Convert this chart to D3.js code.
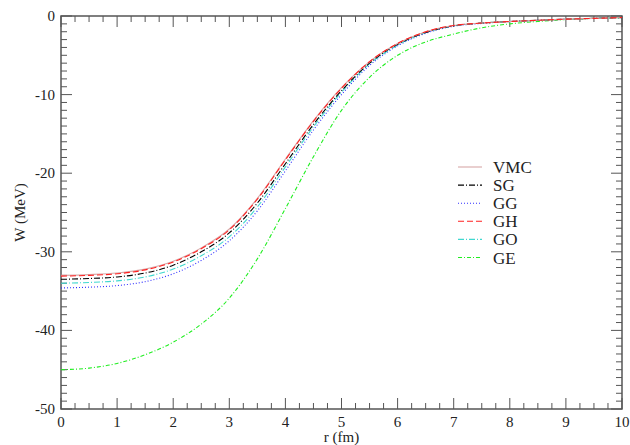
<!DOCTYPE html>
<html>
<head>
<meta charset="utf-8">
<script src="https://cdn.jsdelivr.net/npm/d3@7"></script>
<style>
  body { margin: 0; background: #fff; }
  svg text { font-family: "Liberation Serif", "Times New Roman", Times, serif; fill: #222; }
</style>
</head>
<body>
<svg class="figure" width="630" height="445"></svg>
<script>
// radius grid (fm)
var r = [0, 0.5, 1, 1.5, 2, 2.5, 3, 3.5, 4, 4.5, 5, 5.5, 6, 6.5, 7, 7.5, 8, 8.5, 9, 9.5, 10];

// imaginary potentials W (MeV)
var vmc = [-33.0, -32.9, -32.7, -32.2, -31.2, -29.5, -27.1, -23.2, -18.2, -13.3, -9.1, -5.8, -3.5, -2.0, -1.2, -0.9, -0.7, -0.55, -0.4, -0.3, -0.2];
var sg  = [-33.5, -33.4, -33.2, -32.7, -31.7, -30.0, -27.6, -23.8, -18.8, -13.8, -9.5, -6.0, -3.6, -2.1, -1.25, -0.9, -0.7, -0.55, -0.4, -0.3, -0.2];
var gg  = [-34.6, -34.5, -34.3, -33.8, -32.8, -31.1, -28.6, -24.8, -19.7, -14.5, -10.0, -6.3, -3.8, -2.2, -1.3, -0.95, -0.7, -0.55, -0.4, -0.3, -0.2];
var gh  = [-33.1, -33.0, -32.8, -32.3, -31.3, -29.6, -27.2, -23.3, -18.3, -13.4, -9.2, -5.8, -3.5, -2.0, -1.2, -0.9, -0.7, -0.55, -0.4, -0.3, -0.2];
var go  = [-34.0, -33.9, -33.7, -33.2, -32.2, -30.5, -28.1, -24.3, -19.2, -14.1, -9.7, -6.1, -3.7, -2.1, -1.25, -0.9, -0.7, -0.55, -0.4, -0.3, -0.2];
var ge  = [-45.0, -44.8, -44.2, -43.1, -41.5, -39.2, -35.9, -30.9, -24.5, -17.9, -12.0, -7.8, -5.0, -3.3, -2.3, -1.5, -1.0, -0.7, -0.45, -0.3, -0.2];

var seriesNames = ["VMC", "SG", "GG", "GH", "GO", "GE"];
var seriesValues = [vmc, sg, gg, gh, go, ge];
var seriesColors = ["#d8a8a8", "#000000", "#3030ff", "#ff2020", "#40d8d0", "#20ee20"];
var seriesDash = ["none", "6,2,1,2", "1,2", "6,3", "6,2,1,2", "4,2,1,2"];
var drawOrder = [5, 2, 4, 1, 0, 3];

var xTicks = [0, 1, 2, 3, 4, 5, 6, 7, 8, 9, 10];
var yTicks = [0, -10, -20, -30, -40, -50];

var svg = d3.select("svg.figure");
var plotLeft = 61, plotRight = 622, plotTop = 16, plotBottom = 409;

var x = d3.scaleLinear().domain([0, 10]).range([plotLeft, plotRight]);
var y = d3.scaleLinear().domain([-50, 0]).range([plotBottom, plotTop]);

var axisColor = "#555";

// frame
svg.append("rect")
.attr("x", plotLeft)
.attr("y", plotTop)
.attr("width", plotRight - plotLeft)
.attr("height", plotBottom - plotTop)
.attr("fill", "none")
.attr("stroke", axisColor)
.attr("stroke-width", 1.5);

// ticks (inward, mirrored on all four sides)
var xMinor = d3.range(0, 10.001, 0.25);
var yMinor = d3.range(-50, 0.001, 1);

function tickLen(isMajor) { return isMajor ? 11 : 6; }

var tickG = svg.append("g").attr("stroke", axisColor).attr("stroke-width", 1);

xMinor.forEach(function(v) {
  var major = Math.abs(v - Math.round(v)) < 1e-6;
  var len = tickLen(major);
  tickG.append("line").attr("x1", x(v)).attr("x2", x(v)).attr("y1", plotBottom).attr("y2", plotBottom - len);
  tickG.append("line").attr("x1", x(v)).attr("x2", x(v)).attr("y1", plotTop).attr("y2", plotTop + len);
});

yMinor.forEach(function(v) {
  var major = Math.abs(v % 10) < 1e-6;
  var len = tickLen(major);
  tickG.append("line").attr("y1", y(v)).attr("y2", y(v)).attr("x1", plotLeft).attr("x2", plotLeft + len);
  tickG.append("line").attr("y1", y(v)).attr("y2", y(v)).attr("x1", plotRight).attr("x2", plotRight - len);
});

// tick labels
svg.selectAll("text.xlab")
.data(xTicks)
.enter()
.append("text")
.attr("class", "xlab")
.attr("x", function(d) { return x(d); })
.attr("y", plotBottom + 18)
.attr("text-anchor", "middle")
.attr("font-size", 15)
.text(function(d) { return d; });

svg.selectAll("text.ylab")
.data(yTicks)
.enter()
.append("text")
.attr("class", "ylab")
.attr("x", plotLeft - 6)
.attr("y", function(d) { return y(d) + 5; })
.attr("text-anchor", "end")
.attr("font-size", 15)
.text(function(d) { return d; });

// axis titles
svg.append("text")
.attr("x", (plotLeft + plotRight) / 2)
.attr("y", 442)
.attr("text-anchor", "middle")
.attr("font-size", 15)
.text("r (fm)");

svg.append("text")
.attr("transform", "translate(25," + ((plotTop + plotBottom) / 2) + ") rotate(-90)")
.attr("text-anchor", "middle")
.attr("font-size", 15)
.text("W (MeV)");

// curves
var line = d3.line()
.x(function(d) { return x(d[0]); })
.y(function(d) { return y(d[1]); })
.curve(d3.curveMonotoneX);

var plot = svg.append("g");
drawOrder.forEach(function(i) {
  plot.append("path")
  .datum(r.map(function(rv, k) { return [rv, seriesValues[i][k]]; }))
  .attr("d", line)
  .attr("fill", "none")
  .attr("stroke", seriesColors[i])
  .attr("stroke-width", 1.1)
  .attr("stroke-dasharray", seriesDash[i]);
});

// legend
var legend = svg.append("g");
seriesNames.forEach(function(name, i) {
  var ly = 167 + i * 18.1;
  legend.append("line")
  .attr("x1", 458)
  .attr("x2", 482)
  .attr("y1", ly)
  .attr("y2", ly)
  .attr("stroke", seriesColors[i])
  .attr("stroke-width", 1.1)
  .attr("stroke-dasharray", seriesDash[i]);
  legend.append("text")
  .attr("x", 493)
  .attr("y", ly + 6)
  .attr("font-size", 17)
  .text(name);
});
</script>
</body>
</html>
